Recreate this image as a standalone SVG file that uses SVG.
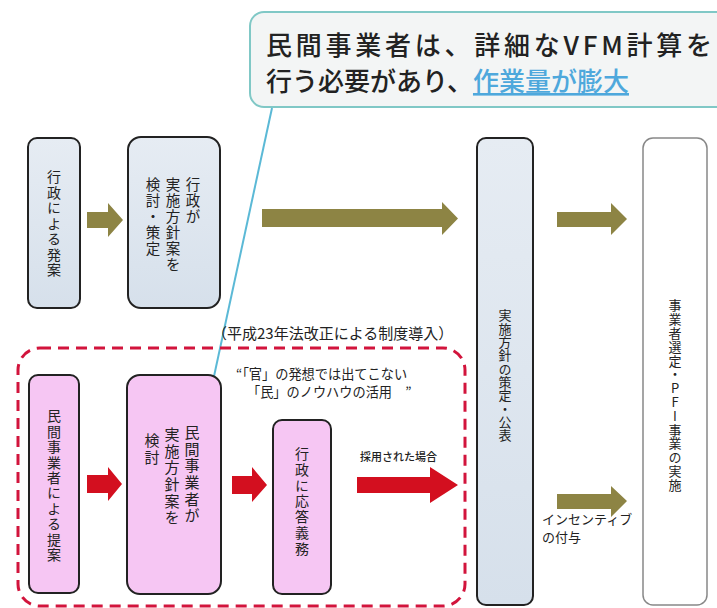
<svg xmlns="http://www.w3.org/2000/svg" width="717" height="608" viewBox="0 0 717 608">
<style>
  text { font-family: "Noto Sans CJK JP", "Noto Sans", sans-serif; fill: #222; }
  .v { writing-mode: vertical-rl; text-orientation: upright; }
  .gov { fill: url(#govFill); stroke: #222; stroke-width: 2; }
  .pink { fill: #f6c6f3; stroke: #222; stroke-width: 2; }
  .olive { fill: #8d8444; }
  .red { fill: #d30f1f; }
</style>
<defs>
  <linearGradient id="govFill" x1="0" y1="0" x2="0" y2="1">
    <stop offset="0" stop-color="#e6ecf3"/>
    <stop offset="1" stop-color="#d6e0eb"/>
  </linearGradient>
  <marker id="openArrow" viewBox="0 0 12 12" refX="11" refY="6" markerWidth="12" markerHeight="12" markerUnits="userSpaceOnUse" orient="auto">
    <polyline points="1,1 11,6 1,11" fill="none" stroke="#5bb9d6" stroke-width="2"/>
  </marker>
</defs>
<rect width="717" height="608" fill="#ffffff"/>

<g id="callout">
  <rect x="250" y="12" width="490" height="95" rx="14" fill="#f3f5f5" stroke="#80c8c6" stroke-width="2"/>
  <text font-size="26" font-weight="500"><tspan x="266" y="55" textLength="446" lengthAdjust="spacing">民間事業者は、詳細なVFM計算を</tspan><tspan x="266" y="91">行う必要があり、</tspan><tspan fill="#4ea8dc" text-decoration="underline">作業量が膨大</tspan></text>
</g>

<g id="connectors">
  <polygon class="olive" points="87,212 108,212 108,203 123,220 108,237 108,228 87,228"/>
  <polygon class="olive" points="262,209 442,209 442,202 458,218.5 442,235 442,227 262,227"/>
  <polygon class="olive" points="557,212 611,212 611,203 627,219 611,235 611,227 557,227"/>
  <polygon class="olive" points="557,494 611,494 611,486 627,501 611,517 611,509 557,509"/>
  <polygon class="red" points="87,475 108,475 108,467 122,484 108,501 108,493 87,493"/>
  <polygon class="red" points="232,476 252,476 252,467 267,485 252,502 252,494 232,494"/>
  <polygon class="red" points="357,477 430,477 430,467 458,485 430,503 430,493 357,493"/>
  <line x1="272" y1="108" x2="208" y2="404" stroke="#5bb9d6" stroke-width="2" marker-end="url(#openArrow)"/>
  <text x="360" y="461" font-size="11" font-weight="500" fill="#444">採用された場合</text>
  <text font-size="13"><tspan x="542" y="524">インセンティブ</tspan><tspan x="542" y="542">の付与</tspan></text>
</g>

<g id="region">
  <rect x="18" y="348" width="447" height="258" rx="22" fill="none" stroke="#d2143c" stroke-width="3" stroke-dasharray="11 7"/>
  <text x="212" y="339" font-size="15" fill="#333">（平成23年法改正による制度導入）</text>
  <text font-size="13.2" fill="#333"><tspan x="236" y="379">“「官」の発想では出てこない</tspan><tspan x="247" y="397">「民」のノウハウの活用　”</tspan></text>
</g>

<g id="node-gov-proposal">
  <rect class="gov" x="28" y="138" width="52" height="170" rx="9"/>
  <text class="v" x="54" y="170" font-size="14" letter-spacing="1.5">行政による発案</text>
</g>

<g id="node-gov-plan">
  <rect class="gov" x="128" y="137" width="92" height="171" rx="13"/>
  <text class="v" x="193" y="177" font-size="14.5" letter-spacing="1.5">行政が</text>
  <text class="v" x="173" y="177" font-size="14.5" letter-spacing="1.5">実施方針案を</text>
  <text class="v" x="153" y="177" font-size="14.5" letter-spacing="1.5">検討・策定</text>
</g>

<g id="node-policy">
  <rect class="gov" x="477" y="138" width="56" height="467" rx="9"/>
  <text class="v" x="505" y="309" font-size="13" letter-spacing="0.3">実施方針の策定・公表</text>
</g>

<g id="node-selection">
  <rect x="643" y="138" width="64" height="467" rx="10" fill="#ffffff" stroke="#888" stroke-width="1.5"/>
  <text class="v" x="675" y="299" font-size="13" letter-spacing="0.8">事業者選定・PFI事業の実施</text>
</g>

<g id="node-private-proposal">
  <rect class="pink" x="29" y="375" width="50" height="218" rx="9"/>
  <text class="v" x="54" y="409" font-size="14" letter-spacing="1.4">民間事業者による提案</text>
</g>

<g id="node-private-plan">
  <rect class="pink" x="127" y="375" width="94" height="219" rx="13"/>
  <text class="v" x="192" y="425" font-size="15" letter-spacing="1.6">民間事業者が</text>
  <text class="v" x="172" y="427" font-size="15" letter-spacing="1.6">実施方針案を</text>
  <text class="v" x="152" y="433" font-size="15" letter-spacing="1.6">検討</text>
</g>

<g id="node-response">
  <rect class="pink" x="273" y="420" width="58" height="174" rx="9"/>
  <text class="v" x="302" y="447" font-size="14" letter-spacing="1.7">行政に応答義務</text>
</g>
</svg>
